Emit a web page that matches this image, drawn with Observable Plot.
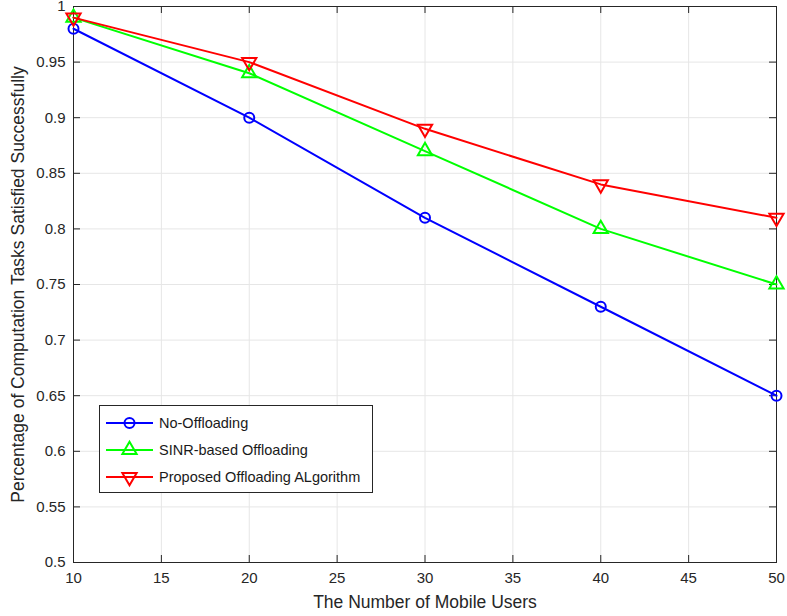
<!DOCTYPE html>
<html>
<head>
<meta charset="utf-8">
<script src="https://cdn.jsdelivr.net/npm/d3@7"></script>
<script src="https://cdn.jsdelivr.net/npm/@observablehq/plot@0.6"></script>
<style>
  html, body { margin: 0; padding: 0; background: #fff; }
  #wrap { position: relative; width: 787px; height: 616px; font-family: "Liberation Sans", Arial, sans-serif; }
  #legend { position: absolute; left: 99px; top: 405px; }
</style>
</head>
<body>
<div id="wrap"><div id="chart"></div><div id="legend"></div></div>
<script>
const users = [10, 20, 30, 40, 50];
const noOffloading = [0.98, 0.90, 0.81, 0.73, 0.65];
const sinrOffloading = [0.99, 0.94, 0.87, 0.80, 0.75];
const proposedOffloading = [0.99, 0.95, 0.89, 0.84, 0.81];
const seriesNames = ["No-Offloading", "SINR-based Offloading", "Proposed Offloading ALgorithm"];
const seriesColors = ["#0000ff", "#00ff00", "#ff0000"];
const xTicks = [10, 15, 20, 25, 30, 35, 40, 45, 50];
const yTicks = [0.5, 0.55, 0.6, 0.65, 0.7, 0.75, 0.8, 0.85, 0.9, 0.95, 1];
const xLabel = "The Number of Mobile Users";
const yLabel = "Percentage of Computation Tasks Satisfied Successfully";

const W = 787, H = 616, mL = 73, mR = 11, mT = 6, mB = 54;
const innerW = W - mL - mR, innerH = H - mT - mB;
const tickLen = 7;
const axisColor = "#262626";

const rows = (vals) => users.map((u, i) => ({x: u, y: vals[i]}));
const dataSets = [rows(noOffloading), rows(sinrOffloading), rows(proposedOffloading)];
const symbols = [{symbol: "circle", r: 5, rotate: 0}, {symbol: "triangle", r: 5.3, rotate: 0}, {symbol: "triangle", r: 5.3, rotate: 180}];

const marks = [
  Plot.gridX(xTicks, {stroke: "#e6e6e6", strokeOpacity: 1}),
  Plot.gridY(yTicks, {stroke: "#e6e6e6", strokeOpacity: 1}),
  Plot.ruleX(xTicks, {x: d => d, insetTop: innerH - tickLen, stroke: axisColor}),
  Plot.ruleX(xTicks, {x: d => d, insetBottom: innerH - tickLen, stroke: axisColor}),
  Plot.ruleY(yTicks, {y: d => d, insetRight: innerW - tickLen, stroke: axisColor}),
  Plot.ruleY(yTicks, {y: d => d, insetLeft: innerW - tickLen, stroke: axisColor}),
  Plot.axisX(xTicks, {tickSize: 0, tickPadding: 10, fontSize: 15, label: null, fill: axisColor}),
  Plot.axisY(yTicks, {tickSize: 0, tickPadding: 8, fontSize: 15, label: null, tickFormat: d => String(d), fill: axisColor}),
  Plot.frame({stroke: axisColor}),
  Plot.text([xLabel], {text: d => d, frameAnchor: "bottom", textAnchor: "middle", lineAnchor: "middle", dy: 40, fontSize: 17.5, fill: axisColor}),
  Plot.text([yLabel], {text: d => d, frameAnchor: "left", textAnchor: "middle", lineAnchor: "middle", rotate: -90, dx: -55, fontSize: 17.5, fill: axisColor})
];
dataSets.forEach((ds, i) => {
  marks.push(Plot.line(ds, {x: "x", y: "y", stroke: seriesColors[i], strokeWidth: 2}));
  marks.push(Plot.dot(ds, {x: "x", y: "y", symbol: symbols[i].symbol, r: symbols[i].r, rotate: symbols[i].rotate, stroke: seriesColors[i], strokeWidth: 2, fill: "none"}));
});

const chart = Plot.plot({
  width: W, height: H,
  marginLeft: mL, marginRight: mR, marginTop: mT, marginBottom: mB,
  x: {domain: [10, 50]},
  y: {domain: [0.5, 1]},
  style: {fontFamily: "'Liberation Sans', Arial, sans-serif", fontSize: "15px", color: axisColor, background: "#fff", overflow: "visible"},
  marks
});
document.getElementById("chart").appendChild(chart);

// Legend
const lw = 274, lh = 88;
const leg = d3.select("#legend").append("svg").attr("width", lw).attr("height", lh)
  .style("font-family", "'Liberation Sans', Arial, sans-serif");
leg.append("rect").attr("x", 0.5).attr("y", 0.5).attr("width", lw - 1).attr("height", lh - 1)
  .attr("fill", "#fff").attr("stroke", axisColor);
seriesNames.forEach((name, i) => {
  const cy = 18 + i * 27;
  const g = leg.append("g");
  g.append("line").attr("x1", 7).attr("x2", 54).attr("y1", cy).attr("y2", cy)
    .attr("stroke", seriesColors[i]).attr("stroke-width", 2);
  const s = symbols[i];
  const sym = s.symbol === "circle" ? d3.symbolCircle : d3.symbolTriangle;
  g.append("path").attr("d", d3.symbol(sym, Math.PI * s.r * s.r)())
    .attr("transform", `translate(30.5,${cy}) rotate(${s.rotate})`)
    .attr("fill", "none").attr("stroke", seriesColors[i]).attr("stroke-width", 2);
  g.append("text").attr("x", 60).attr("y", cy).attr("dy", "0.35em")
    .attr("font-size", 14.5).attr("fill", "#1a1a1a").text(name);
});
</script>
</body>
</html>
